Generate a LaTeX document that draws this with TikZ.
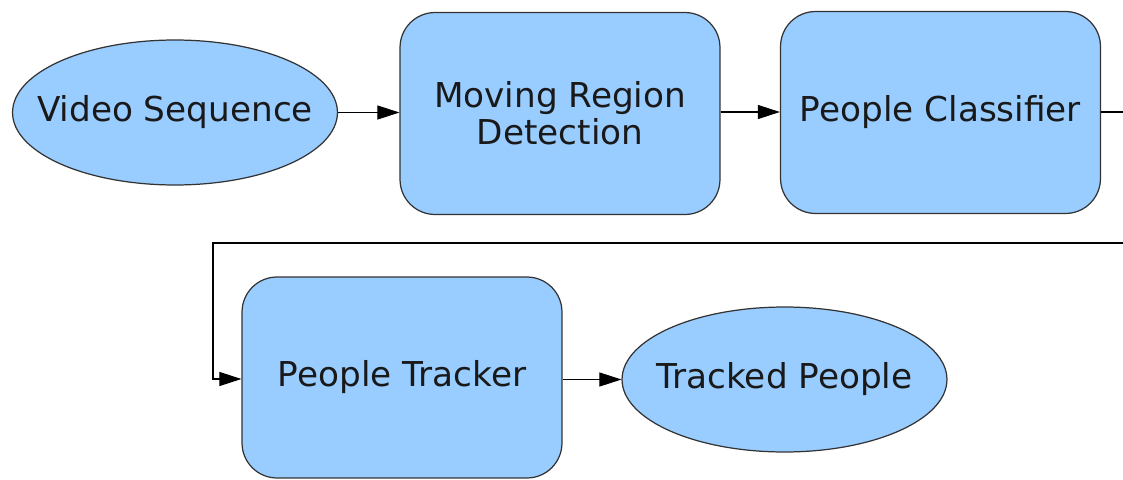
\documentclass[tikz,border=0pt]{standalone}
\usepackage{fontspec}
\setmainfont{DejaVu Sans}
\usetikzlibrary{arrows.meta,shapes.geometric}
\definecolor{boxfill}{HTML}{99CCFF}
\definecolor{edge}{HTML}{333333}
\tikzset{
  px/.style={x=0.02cm,y=-0.02cm},
  txt/.style={font=\fontsize{19.5}{21}\selectfont,text=black!90},
  procbox/.style={draw=edge,fill=boxfill,line width=0.7pt,rounded corners=0.7cm,
    minimum width=6.4cm,minimum height=4.04cm,align=center,txt,inner sep=0pt},
  ioell/.style={draw=edge,fill=boxfill,ellipse,line width=0.7pt,minimum width=6.5cm,minimum height=2.9cm,
    inner sep=0pt},
  conn/.style={draw=black,line width=0.6pt,-{Triangle[length=0.44cm,width=0.28cm]}}
}
\begin{document}
\begin{tikzpicture}[px]
\useasboundingbox (0,0) rectangle (1123,480);
\clip (0,0) rectangle (1123,480);
\node[ioell,label={[txt]center:Video Sequence}] (vs) at (175,112.5) {};
\node[procbox] (mrd) at (560,113.5) {Moving Region\\Detection};
\node[procbox] (pc) at (940.5,112.5) {People Classifier};
\node[procbox,minimum height=4.02cm] (pt) at (402,377.5) {People Tracker};
\node[ioell,label={[txt]center:Tracked People}] (tp) at (784.5,379.5) {};
\coordinate (o1) at (1140,112);
\coordinate (o2) at (1140,243);
\coordinate (o3) at (213,243);
\coordinate (o4) at (213,379);
\draw[conn] (vs.east) -- (vs.east -| mrd.west);
\draw[conn] (mrd.east |- 0,112) -- (pc.west |- 0,112);
\draw[conn] (pc.east |- 0,112) -- (o1) -- (o2) -- (o3) -- (o4) -- (pt.west |- o4);
\draw[conn] (pt.east |- tp.west) -- (tp.west);
\end{tikzpicture}
\end{document}
